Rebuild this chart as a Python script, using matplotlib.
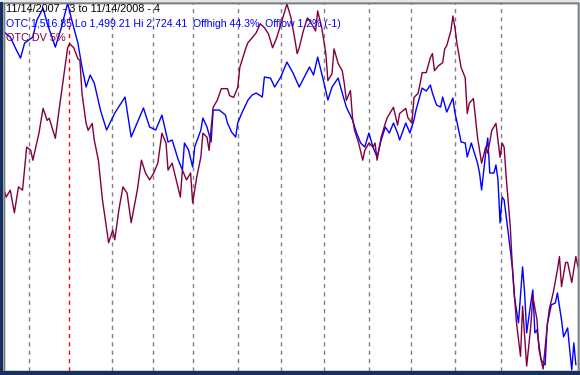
import matplotlib
matplotlib.use("Agg")
import matplotlib.pyplot as plt
from matplotlib.patches import Rectangle

# -----------------------------
# Data (trading day index)
# -----------------------------

otc_day = [0, 3, 6, 8, 10, 14, 16, 19, 21, 25, 28, 31, 33, 36, 38, 40, 42, 44, 47, 50,
           54, 59, 62, 68, 71, 74, 77, 80, 82, 85, 87, 88, 90, 92, 93, 96, 97, 99, 101, 102,
           105, 108, 109, 111, 113, 114, 116, 119, 121, 123, 126, 127, 130, 132, 135, 138, 141, 144, 147, 149,
           151, 153, 156, 158, 160, 163, 165, 167, 170, 172, 174, 176, 178, 180, 182, 184, 186, 188, 190, 192,
           193, 196, 198, 200, 201, 203, 204, 206, 208, 209, 211, 213, 214, 216, 219, 220, 221, 223, 225, 226,
           228, 231, 232, 233, 235, 236, 237, 239, 240, 241, 242, 243, 244, 246, 248, 249, 251, 253, 254, 255,
           257, 258, 259, 260, 262, 264, 265, 267, 269, 270, 272, 273, 275, 276, 277, 278, 279]
otc_close = [2627.6, 2610.9, 2567.5, 2540.8, 2590.9, 2610.9, 2667.6, 2707.7, 2657.6, 2577.5,
             2644.3, 2724.4, 2667.6, 2590.9, 2510.8, 2444.0, 2484.1, 2457.3, 2367.2, 2300.5,
             2357.2, 2410.6, 2277.1, 2373.9, 2310.5, 2300.5, 2350.5, 2260.4, 2267.1, 2200.3,
             2166.9, 2257.1, 2233.7, 2176.9, 2243.7, 2300.5, 2340.5, 2310.5, 2260.4, 2367.2,
             2367.2, 2350.5, 2323.8, 2293.8, 2277.1, 2323.8, 2357.2, 2400.6, 2417.3, 2424.0,
             2410.6, 2477.4, 2474.0, 2444.0, 2477.4, 2527.4, 2490.7, 2444.0, 2484.1, 2510.8,
             2484.1, 2544.1, 2460.7, 2400.6, 2444.0, 2474.0, 2424.0, 2377.2, 2333.8, 2290.4,
             2257.1, 2243.7, 2290.4, 2243.7, 2210.3, 2267.1, 2310.5, 2290.4, 2323.8, 2290.4,
             2267.1, 2323.8, 2290.4, 2333.8, 2367.2, 2417.3, 2440.7, 2430.6, 2450.7, 2424.0,
             2383.9, 2377.2, 2410.6, 2360.5, 2407.3, 2357.2, 2327.2, 2260.4, 2257.1, 2210.3,
             2257.1, 2190.3, 2156.9, 2100.2, 2223.7, 2273.8, 2156.9, 2156.9, 2183.6, 2133.6,
             1990.0, 2076.8, 2066.8, 1956.6, 1843.2, 1743.0, 1656.2, 1843.2, 1756.4, 1622.8,
             1723.0, 1766.4, 1622.8, 1632.9, 1532.7, 1516.0, 1649.5, 1716.3, 1723.0, 1756.4,
             1666.2, 1609.5, 1639.5, 1566.1, 1499.2, 1589.5, 1516.85]

dv_day = [0, 1, 3, 5, 7, 9, 11, 13, 14, 17, 19, 21, 22, 25, 27, 29, 31, 32, 34, 36,
          37, 38, 40, 41, 43, 44, 46, 48, 51, 53, 54, 56, 58, 60, 62, 65, 67, 69, 71, 73,
          75, 77, 79, 80, 82, 84, 86, 87, 89, 91, 92, 94, 96, 97, 99, 100, 102, 104, 106, 109,
          110, 112, 114, 115, 118, 119, 121, 123, 125, 127, 129, 131, 133, 136, 138, 140, 142, 143, 144, 146,
          148, 150, 152, 153, 155, 157, 158, 160, 161, 163, 165, 166, 167, 169, 170, 171, 173, 175, 176, 178,
          180, 181, 182, 184, 186, 187, 190, 192, 193, 196, 197, 199, 200, 202, 203, 204, 206, 208, 209, 210,
          212, 214, 215, 216, 218, 219, 220, 221, 223, 225, 226, 227, 229, 230, 231, 233, 235, 236, 238, 240,
          242, 243, 244, 245, 247, 248, 250, 252, 253, 255, 257, 258, 260, 261, 263, 265, 266, 268, 270, 271,
          272, 274, 275, 277, 279, 280]
dv_pct = [49.0, 47.1, 49.0, 42.8, 49.9, 49.0, 60.8, 59.9, 57.2, 64.6,
          71.4, 68.1, 68.7, 63.2, 71.7, 79.8, 88.0, 89.1, 88.0, 85.0,
          84.5, 75.5, 67.3, 65.4, 67.3, 62.7, 57.2, 46.3, 34.6, 38.1,
          35.4, 43.6, 49.9, 48.2, 40.1, 49.0, 57.2, 53.7, 51.8, 53.7,
          56.4, 64.6, 61.9, 54.5, 56.4, 51.8, 47.1, 54.5, 51.8, 53.7,
          45.5, 52.6, 58.0, 64.6, 63.5, 59.9, 71.7, 73.6, 76.8, 76.8,
          74.9, 74.4, 77.1, 82.6, 88.0, 89.4, 90.7, 92.1, 94.6, 93.5,
          91.8, 88.0, 90.7, 96.2, 100.0, 96.2, 89.9, 86.4, 88.0, 92.6,
          96.2, 94.6, 92.6, 98.1, 93.5, 86.4, 79.0, 80.9, 87.7, 83.7,
          81.7, 78.2, 73.6, 76.3, 68.9, 65.4, 61.9, 57.2, 59.9, 61.9,
          60.8, 61.9, 57.2, 63.5, 67.3, 68.9, 71.7, 66.8, 70.0, 71.4,
          68.9, 67.3, 74.4, 75.5, 78.2, 81.2, 81.2, 85.3, 86.4, 81.7,
          83.1, 83.9, 87.7, 88.6, 92.6, 96.7, 93.5, 89.1, 82.6, 79.8,
          70.0, 72.8, 74.1, 68.9, 63.5, 56.4, 60.8, 59.1, 65.4, 67.3,
          58.0, 61.9, 60.8, 52.6, 39.0, 28.1, 12.8, 3.5, 17.2, 0.8,
          11.7, 19.9, 13.6, 5.4, 0.0, 11.7, 16.3, 21.0, 27.2, 30.8,
          22.6, 29.2, 29.2, 23.7, 30.8, 28.1]

# month boundaries (trading day index), first of Jan 2008 in red
month_day = [12.2, 31.7, 52.7, 72.7, 92.2, 114.1, 135.1, 156.1, 178.0, 198.5, 220.0, 242.4]
year_day = 31.7

# -----------------------------
# Chart
# -----------------------------

plt.rcParams["font.family"] = ["Liberation Sans", "DejaVu Sans"]

fig = plt.figure(figsize=(5.8, 3.75), dpi=100)
fig.patch.set_facecolor("#b4bcc8")

# window frame: navy on the left and bottom
fig.patches.append(Rectangle((0, 0), 3 / 580, 1, transform=fig.transFigure,
                             facecolor="#14305e", edgecolor="none", zorder=0))
fig.patches.append(Rectangle((0, 0), 1, 4 / 375, transform=fig.transFigure,
                             facecolor="#14305e", edgecolor="none", zorder=0))
fig.patches.append(Rectangle((0, 1 - 2 / 375), 1, 2 / 375, transform=fig.transFigure,
                             facecolor="#e4e6ea", edgecolor="none", zorder=0))

ax = fig.add_axes([3.5 / 580, 4.5 / 375, 574 / 580, 368 / 375])
ax.set_facecolor("white")

for d in month_day:
    col = "#ff0000" if d == year_day else "#808080"
    ax.axvline(d, color=col, linestyle=(0, (3, 3)), linewidth=1.0, zorder=1)

ax.plot(otc_day, otc_close, color="#0000ff", linewidth=1.0, zorder=3)
ax.set_xlim(-0.3, 279.8)
ax.set_ylim(1499.21 - 2, 2724.41 + 2)

ax2 = ax.twinx()
ax2.plot(dv_day, dv_pct, color="#800040", linewidth=1.0, zorder=2)
ax2.set_ylim(-0.4, 100.4)

for a in (ax, ax2):
    a.set_xticks([])
    a.set_yticks([])
    for s in a.spines.values():
        s.set_color("#7a7a7a")
        s.set_linewidth(1.0)

fig.text(6 / 580, 1 - 4 / 375, "11/14/2007 - 3 to 11/14/2008 - 4", color="black",
         fontsize=7.8, va="top", ha="left")
fig.text(6 / 580, 1 - 19 / 375,
         "OTC 1,516.85 Lo 1,499.21 Hi 2,724.41  Offhigh 44.3%  Offlow 1.2% (-1)",
         color="#0000ff", fontsize=7.6, va="top", ha="left")
fig.text(6 / 580, 1 - 33 / 375, "OTC DV 5%", color="#800040",
         fontsize=7.8, va="top", ha="left")

fig.savefig("out.png", dpi=100, facecolor=fig.get_facecolor())
plt.close()
